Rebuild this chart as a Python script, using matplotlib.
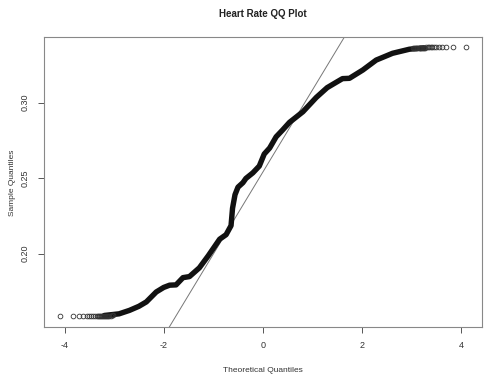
import matplotlib
matplotlib.use("Agg")
import matplotlib.pyplot as plt
from statistics import NormalDist

# Number of heart-rate observations
n_obs = 24000

# Sorted sample quantiles along the dense part of the plot
# (theoretical normal quantile, sample quantile)
band_theoretical = [-3.20, -2.90, -2.69, -2.50, -2.35, -2.15, -2.00, -1.88, -1.75,
                    -1.61, -1.48, -1.28, -1.10, -0.87, -0.74, -0.64, -0.61, -0.56,
                    -0.50, -0.40, -0.34, -0.20, -0.07, 0.03, 0.14, 0.27, 0.40,
                    0.54, 0.61, 0.81, 1.08, 1.30, 1.48, 1.61, 1.75, 2.02, 2.29,
                    2.62, 2.96, 3.25]
band_sample = [0.1589, 0.1600, 0.1623, 0.1650, 0.1679, 0.1745, 0.1775, 0.1790, 0.1792,
               0.1840, 0.1847, 0.1905, 0.1985, 0.2095, 0.2125, 0.2185, 0.2300, 0.2390,
               0.2440, 0.2470, 0.2498, 0.2535, 0.2580, 0.2660, 0.2700, 0.2774, 0.2819,
               0.2870, 0.2888, 0.2940, 0.3035, 0.3100, 0.3135, 0.3160, 0.3162, 0.3217,
               0.3283, 0.3328, 0.3355, 0.3364]

# Smallest observations (rank 1, 2, ...) and largest observations (rank n, n-1, ...)
low_ranks = [1, 2, 3, 4, 5, 6, 7, 8, 9, 10, 11, 12, 13, 14, 15, 16, 17, 18,
             19, 20, 22, 24, 26, 28, 30]
low_values = [0.1584, 0.1584, 0.1584, 0.1584, 0.1584, 0.1585, 0.1585, 0.1585, 0.1585,
              0.1585, 0.1585, 0.1586, 0.1586, 0.1586, 0.1586, 0.1586, 0.1587, 0.1587,
              0.1587, 0.1587, 0.1588, 0.1588, 0.1588, 0.1589, 0.1589]
high_ranks = [1, 2, 3, 4, 5, 6, 7, 8, 9, 10, 11, 12, 13, 14, 15, 16, 17, 18,
              19, 20, 22, 24, 26, 28, 30]
high_values = [0.3368, 0.3368, 0.3368, 0.3368, 0.3368, 0.3368, 0.3367, 0.3367, 0.3367,
               0.3367, 0.3367, 0.3367, 0.3366, 0.3366, 0.3366, 0.3366, 0.3366, 0.3366,
               0.3365, 0.3365, 0.3365, 0.3365, 0.3365, 0.3364, 0.3364]

# Sample quartiles used for the reference line
sample_q25 = 0.2172
sample_q75 = 0.2906

x_ticks = [-4, -2, 0, 2, 4]
y_ticks = [0.20, 0.25, 0.30]

nd = NormalDist()


def ppoint(rank):
    return nd.inv_cdf((rank - 0.5) / n_obs)


low_theoretical = [ppoint(r) for r in low_ranks]
high_theoretical = [-ppoint(r) for r in high_ranks]

plt.rcParams["font.family"] = ["Liberation Sans Narrow", "Liberation Sans", "DejaVu Sans"]

fig = plt.figure(figsize=(4.84, 3.83), dpi=100)
ax = fig.add_axes([43.5 / 484, 1 - 327 / 383, (482 - 43.5) / 484, (327 - 36.5) / 383])

ink = "#111111"
ax.plot(band_theoretical, band_sample, color=ink, lw=3.9,
        solid_capstyle="round", solid_joinstyle="round", zorder=3)
for xs, ys in ((low_theoretical, low_values), (high_theoretical, high_values)):
    ax.plot(xs, ys, linestyle="none", marker="o", markersize=3.4,
            markerfacecolor="none", markeredgecolor="#333333",
            markeredgewidth=0.6, zorder=3)

# qqline: through the first and third quartiles
ax.axline((nd.inv_cdf(0.25), sample_q25), (nd.inv_cdf(0.75), sample_q75),
          color="#777777", lw=0.7, zorder=2)

all_x = low_theoretical + high_theoretical
all_y = low_values + high_values
xr = max(all_x) - min(all_x)
yr = max(all_y) - min(all_y)
ax.set_xlim(min(all_x) - 0.04 * xr, max(all_x) + 0.04 * xr)
ax.set_ylim(min(all_y) - 0.04 * yr, max(all_y) + 0.04 * yr)

ax.set_xticks(x_ticks)
ax.set_xticklabels([str(t) for t in x_ticks])
ax.set_yticks(y_ticks)
ax.set_yticklabels([f"{t:.2f}" for t in y_ticks], rotation=90, va="center")
ax.tick_params(axis="both", direction="out", length=4, width=0.7,
               color="#555555", labelsize=6.5, labelcolor="#333333", pad=6)

for s in ax.spines.values():
    s.set_color("#888888")
    s.set_linewidth(0.8)

fig.text((43.5 + 482) / 2 / 484, 1 - 14 / 383, "Heart Rate QQ Plot",
         ha="center", va="center", fontsize=7, fontweight="bold", color="#222222")
fig.text((43.5 + 482) / 2 / 484, 1 - 371 / 383, "Theoretical Quantiles",
         ha="center", va="center", fontsize=6, color="#333333")
fig.text(12.5 / 484, 1 - 183 / 383, "Sample Quantiles", rotation=90,
         ha="center", va="center", fontsize=6, color="#333333")

fig.savefig("out.png", dpi=100)
